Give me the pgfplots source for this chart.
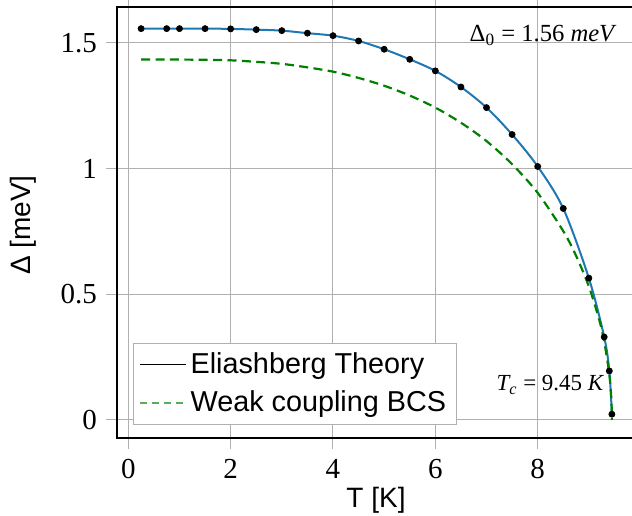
\documentclass[border=0pt]{standalone}
\usepackage{fontspec}
\setmainfont{Liberation Serif}
\setsansfont{Liberation Sans}
\usepackage{pgfplots}
\pgfplotsset{compat=1.18}

\definecolor{mplblue}{RGB}{31,119,180}
\definecolor{bcsgreen}{RGB}{0,128,0}
\definecolor{gridgray}{RGB}{176,176,176}

\begin{document}
\begin{tikzpicture}
\begin{axis}[
  at={(0,0)}, anchor=south west,
  scale only axis,
  width=259pt, height=215.5pt,
  xmin=-0.221, xmax=9.902,
  ymin=-0.0716, ymax=1.642,
  xtick={0,2,4,6,8},
  ytick={0,0.5,1,1.5},
  yticklabels={0,0.5,1,1.5},
  grid=major,
  major grid style={gridgray, line width=0.5pt},
  tick align=outside,
  major tick length=5.5pt,
  tick style={gridgray, line width=0.5pt},
  axis line style={black, line width=0.6pt},
  /pgf/number format/assume math mode=true,
  ticklabel style={font=\fontsize{14.5}{17}\selectfont},
  xticklabel style={yshift=-1.5pt},
  yticklabel style={xshift=-1pt},
  xlabel={T [K]},
  ylabel={Δ [meV]},
  every axis x label/.style={at={(axis description cs:0.5,0)}, anchor=center,
    yshift=-31pt, font=\sffamily\fontsize{14}{17}\selectfont},
  every axis y label/.style={at={(axis description cs:0,0.494)}, anchor=center,
    xshift=-47pt, rotate=90, font=\sffamily\fontsize{14}{17}\selectfont},
  legend style={at={(0.031,0.03)}, anchor=south west, draw=gridgray, fill=white,
    font=\sffamily\fontsize{14.4}{17}\selectfont, row sep=3pt, inner ysep=3pt, inner xsep=3pt},
  legend cell align=left,
  legend image code/.code={\draw[#1] (0cm,0cm) -- (0.8cm,0cm);},
  clip=false,
]
  % Eliashberg curve
  \addplot[mplblue, line width=1pt, smooth, forget plot] table {
    x y
    0.25 1.556
    0.75 1.556
    1.0  1.556
    1.5  1.556
    2.0  1.555
    2.5  1.552
    3.0  1.548
    3.5  1.538
    4.0  1.528
    4.5  1.507
    5.0  1.474
    5.5  1.434
    6.0  1.388
    6.5  1.324
    7.0  1.242
    7.5  1.135
    8.0  1.008
    8.5  0.841
    9.0  0.564
    9.3  0.330
    9.4  0.195
    9.45 0.023
  };
  % weak coupling BCS
  \addplot[bcsgreen, line width=1.1pt, dash pattern=on 4.5pt off 2.7pt, smooth, forget plot] table {
    x y
    0.25 1.433
    1.0  1.433
    1.5  1.432
    2.0  1.430
    2.5  1.424
    3.0  1.416
    3.5  1.402
    4.0  1.385
    4.5  1.360
    5.0  1.329
    5.5  1.290
    6.0  1.242
    6.5  1.182
    7.0  1.109
    7.5  1.017
    8.0  0.903
    8.5  0.751
    8.75 0.653
    9.0  0.531
    9.2  0.400
    9.3  0.312
    9.4  0.181
    9.44 0.081
    9.45 0.0
  };
  % Eliashberg data points
  \addplot[only marks, mark=*, mark size=1.5pt, black, forget plot] table {
    x y
    0.25 1.556
    0.75 1.556
    1.0  1.556
    1.5  1.556
    2.0  1.555
    2.5  1.552
    3.0  1.548
    3.5  1.538
    4.0  1.528
    4.5  1.507
    5.0  1.474
    5.5  1.434
    6.0  1.388
    6.5  1.324
    7.0  1.242
    7.5  1.135
    8.0  1.008
    8.5  0.841
    9.0  0.564
    9.3  0.330
    9.4  0.195
    9.45 0.023
  };
  \addlegendimage{black, line width=0.5pt}
  \addlegendentry{Eliashberg Theory}
  \addlegendimage{bcsgreen!65!white, line width=0.8pt, dash pattern=on 3.5pt off 2.5pt}
  \addlegendentry{Weak coupling BCS}

  \node[anchor=east, font=\fontsize{12.3}{15}\selectfont, inner sep=0pt] at (axis cs:9.55,1.53)
    {Δ\textsubscript{0} = 1.56 \textit{meV}};
  \node[anchor=east, font=\fontsize{11.5}{14}\selectfont, inner sep=0pt] at (axis cs:9.31,0.139)
    {\textit{T\textsubscript{c}} = 9.45 \textit{K}};
\end{axis}
\pgfresetboundingbox
\path (-58.5pt,-38.5pt) rectangle (257.5pt,219pt);
\end{tikzpicture}
\end{document}
